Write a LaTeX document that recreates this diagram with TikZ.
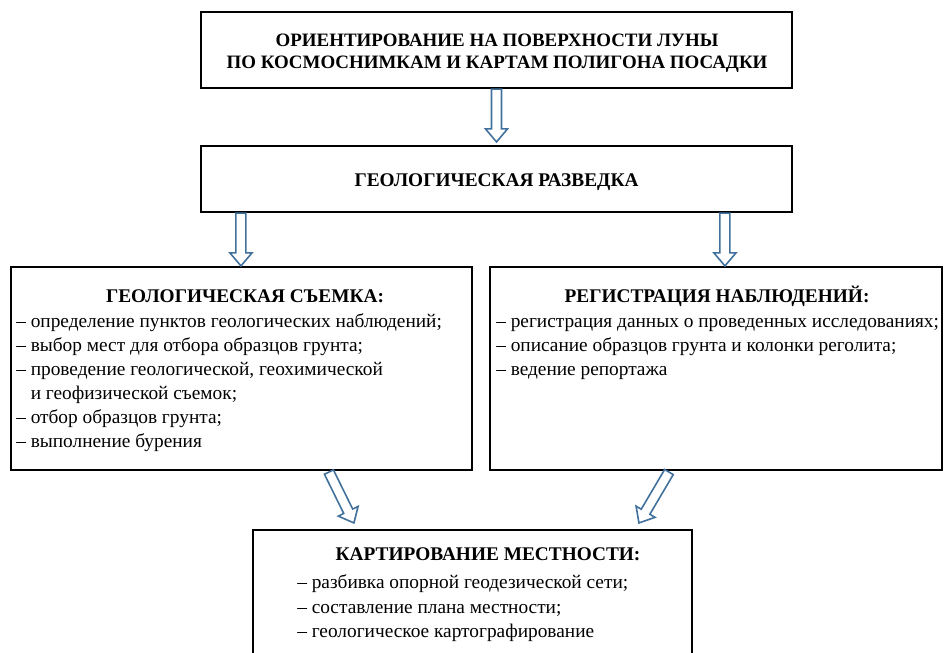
\documentclass[tikz,border=0pt]{standalone}
\usepackage{fontspec}
\setmainfont{Liberation Serif}
\usetikzlibrary{calc}
\definecolor{arrowblue}{HTML}{41719C}
\newcommand\arrowsw{3.75pt}
\newcommand\arrowhw{8.25pt}
\newcommand\arrowhl{9.75pt}
\newcommand\hollowarrow[3]{%
  \coordinate (#1t) at #2;
  \coordinate (#1p) at #3;
  \coordinate (#1h) at ($(#1p)!\arrowhl!(#1t)$);
  \draw[blockarrow] ($(#1t)!\arrowsw!90:(#1p)$) -- ($(#1h)!\arrowsw!90:(#1p)$)
    -- ($(#1h)!\arrowhw!90:(#1p)$) -- (#1p) -- ($(#1h)!\arrowhw!-90:(#1p)$)
    -- ($(#1h)!\arrowsw!-90:(#1p)$) -- ($(#1t)!\arrowsw!-90:(#1p)$) -- cycle;}
\tikzset{
  box/.style={draw=black, line width=1.6pt, inner sep=0pt},
  headtxt/.style={font=\fontsize{14.5}{17}\selectfont\bfseries, inner sep=0pt, anchor=base},
  toptxt/.style={headtxt, font=\fontsize{14.2}{17}\selectfont\bfseries},
  itemtxt/.style={font=\fontsize{14.5}{17}\selectfont, inner sep=0pt, anchor=base west},
  blockarrow/.style={draw=arrowblue, line width=1.2pt, line join=miter}
}
\begin{document}
\begin{tikzpicture}[x=0.75pt,y=-0.75pt]
\useasboundingbox (0,0) rectangle (944,652);
\clip (0,0) rectangle (944,652);
% boxes
\node[box, minimum width=443.25pt, minimum height=57pt] (top) at (496.5,50) {};
\node[box, minimum width=443.25pt, minimum height=49.5pt] (mid) at (496.5,179) {};
\node[box, minimum width=345.75pt, minimum height=152.25pt] (lb) at (241.5,368.5) {};
\node[box, minimum width=339pt, minimum height=152.25pt] (rb) at (716,368.5) {};
\node[box, minimum width=329.25pt, minimum height=120pt] (bb) at (472.5,610) {};
% top text
\node[toptxt] (t1) at (497,47) {ОРИЕНТИРОВАНИЕ НА ПОВЕРХНОСТИ ЛУНЫ};
\node[toptxt] (t2) at (497,69) {ПО КОСМОСНИМКАМ И КАРТАМ ПОЛИГОНА ПОСАДКИ};
\node[headtxt] (m1) at (496.5,187) {ГЕОЛОГИЧЕСКАЯ РАЗВЕДКА};
% left box
\node[headtxt] (lh) at (245,302) {ГЕОЛОГИЧЕСКАЯ СЪЕМКА:};
\node[itemtxt] (l1) at (16,327) {– определение пунктов геологических наблюдений;};
\node[itemtxt] (l2) at (16,351) {– выбор мест для отбора образцов грунта;};
\node[itemtxt] (l3) at (16,375) {– проведение геологической, геохимической};
\node[itemtxt] (l4) at (16,399) {\phantom{– }и геофизической съемок;};
\node[itemtxt] (l5) at (16,423) {– отбор образцов грунта;};
\node[itemtxt] (l6) at (16,447) {– выполнение бурения};
% right box
\node[headtxt] (rh) at (717,302) {РЕГИСТРАЦИЯ НАБЛЮДЕНИЙ:};
\node[itemtxt] (r1) at (496,327) {– регистрация данных о проведенных исследованиях;};
\node[itemtxt] (r2) at (496,351) {– описание образцов грунта и колонки реголита;};
\node[itemtxt] (r3) at (496,375) {– ведение репортажа};
% bottom box
\node[headtxt] (bh) at (488,560) {КАРТИРОВАНИЕ МЕСТНОСТИ:};
\node[itemtxt] (b1) at (297,588) {– разбивка опорной геодезической сети;};
\node[itemtxt] (b2) at (297,613) {– составление плана местности;};
\node[itemtxt] (b3) at (297,637) {– геологическое картографирование};
% arrows
\hollowarrow{a}{(top.south)}{($(mid.north)+(0,-3)$)}
\hollowarrow{b}{($(mid.south west)+(41,0)$)}{($(lb.north west)+(231,0)$)}
\hollowarrow{c}{($(mid.south west)+(525,0)$)}{($(rb.north west)+(236,0)$)}
\hollowarrow{d}{($(lb.south west)+(319,1)$)}{($(bb.north west)+(102,-6)$)}
\hollowarrow{e}{($(rb.south west)+(180,1)$)}{($(bb.north west)+(387,-6)$)}
\end{tikzpicture}
\end{document}
